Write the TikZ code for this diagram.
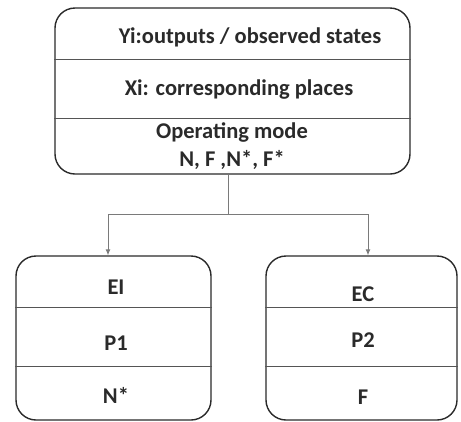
\documentclass[tikz,border=0pt]{standalone}
\usepackage{fontspec}
\setmainfont{Carlito}
\usetikzlibrary{arrows.meta}
\definecolor{ink}{HTML}{2A2A2A}
\definecolor{wire}{HTML}{7A7A7A}
\begin{document}
\begin{tikzpicture}[x=1pt,y=-1pt,
  frame/.style={draw=ink,line width=1.4pt,rounded corners=20pt,inner sep=0pt},
  divider/.style={draw=ink!80,line width=0.9pt},
  lbl/.style={font=\bfseries\fontsize{22.5}{25}\selectfont,text=ink,inner sep=0pt},
  link/.style={draw=wire,line width=0.9pt},
  arrowlink/.style={link,-{Latex[length=6pt,width=5pt]}}]
\useasboundingbox (0,0) rectangle (461,421);
% upper record box
\node[frame,minimum width=355pt,minimum height=166pt] (top) at (232.5,91) {};
\draw[divider] (top.west |- 0,59) -- (top.east |- 0,59);
\draw[divider] (top.west |- 0,118) -- (top.east |- 0,118);
\node[lbl] (y) at (250,37) {Yi:outputs / observed states};
\node[lbl] (x) at (239,90) {Xi: corresponding places};
\node[lbl] (m) at (232,132) {Operating mode};
\node[lbl] (n) at (232,160) {N, F ,N*, F*};
% lower record boxes
\node[frame,minimum width=195pt,minimum height=164pt] (left) at (113.5,338) {};
\draw[divider] (left.west |- 0,307) -- (left.east |- 0,307);
\draw[divider] (left.west |- 0,366) -- (left.east |- 0,366);
\node[lbl] (ei) at (116,287) {EI};
\node[lbl] (p1) at (116,343) {P1};
\node[lbl] (ns) at (116,395) {N*};
\node[frame,minimum width=191pt,minimum height=164pt] (right) at (361.5,338) {};
\draw[divider] (right.west |- 0,307) -- (right.east |- 0,307);
\draw[divider] (right.west |- 0,366) -- (right.east |- 0,366);
\node[lbl] (ec) at (363,294) {EC};
\node[lbl] (p2) at (363,340) {P2};
\node[lbl] (f) at (363,397) {F};
% branching connector
\coordinate (j) at (228,214);
\coordinate (jl) at (108,214);
\coordinate (jr) at (368,214);
\draw[link] (j |- top.south) -- (j);
\draw[link] (jl) -- (jr);
\draw[arrowlink] (jl) -- (jl |- left.north);
\draw[arrowlink] (jr) -- (jr |- right.north);
\end{tikzpicture}
\end{document}
